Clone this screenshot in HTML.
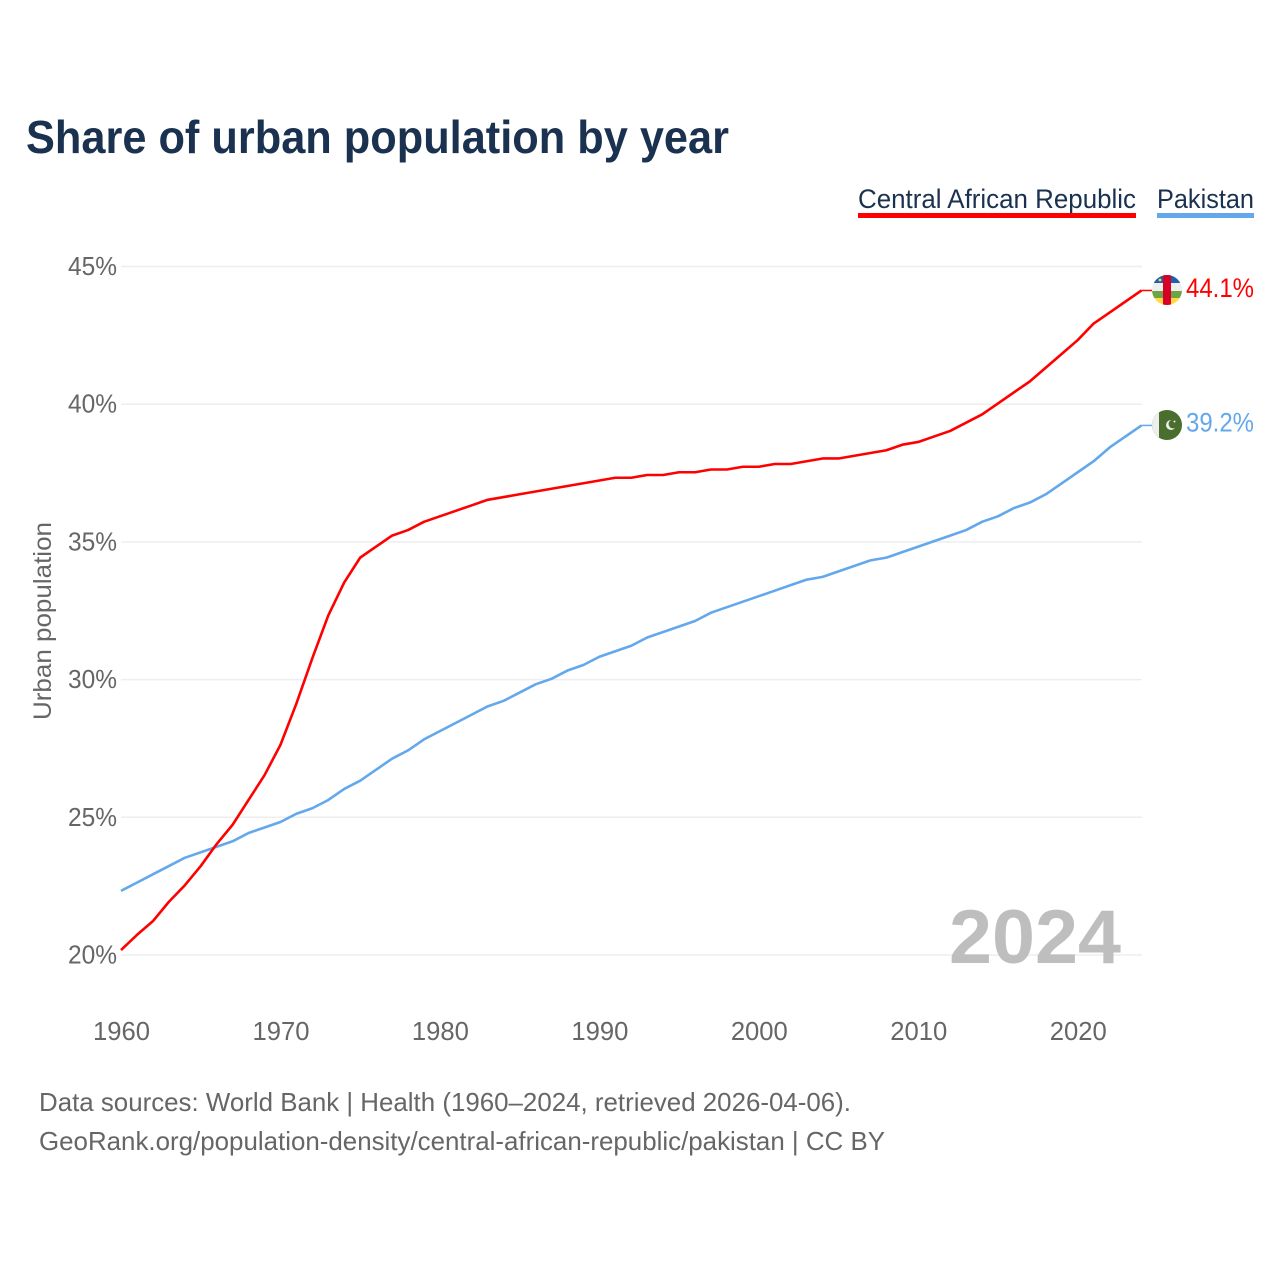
<!DOCTYPE html>
<html lang="en">
<head>
<meta charset="utf-8">
<title>Share of urban population by year</title>
<style>
html,body{margin:0;padding:0;background:#fff}
svg{display:block;font-family:"Liberation Sans",sans-serif}
</style>
</head>
<body>
<svg id="chart" xmlns="http://www.w3.org/2000/svg" width="1280" height="1280" viewBox="0 0 1280 1280">
  <defs>
    <clipPath id="flag-clip-a"><circle cx="1167" cy="290" r="15"/></clipPath>
    <clipPath id="flag-clip-b"><circle cx="1167" cy="425" r="15"/></clipPath>
  </defs>
  <rect width="1280" height="1280" fill="#fff"/>
  <text x="26" y="153" font-size="46" font-weight="700" fill="#1a3150" textLength="703" lengthAdjust="spacingAndGlyphs">Share of urban population by year</text>

  <g>
    <g>
      <text x="858" y="208" font-size="27" fill="#1a3150" textLength="278" lengthAdjust="spacingAndGlyphs">Central African Republic</text>
      <rect x="858" y="213" width="278" height="5" fill="#ff0000"/>
    </g>
    <g>
      <text x="1157" y="208" font-size="27" fill="#1a3150" textLength="97" lengthAdjust="spacingAndGlyphs">Pakistan</text>
      <rect x="1157" y="213" width="97" height="5" fill="#64a8ec"/>
    </g>
  </g>

  <g id="grid"></g>
  <g id="y-ticks"></g>
  <g id="x-ticks"></g>
  <text transform="translate(51 720) rotate(-90)" font-size="25" fill="#666" textLength="198" lengthAdjust="spacingAndGlyphs">Urban population</text>

  <text x="949" y="963" font-size="76" font-weight="700" fill="#bebebe" textLength="172" lengthAdjust="spacingAndGlyphs">2024</text>

  <g id="series" transform="translate(0 -0.8)"></g>

  <g clip-path="url(#flag-clip-a)">
    <rect x="1152" y="275" width="30" height="8" fill="#1f5fae"/>
    <rect x="1152" y="283" width="30" height="8" fill="#eeeeee"/>
    <rect x="1152" y="291" width="30" height="7" fill="#6da544"/>
    <rect x="1152" y="298" width="30" height="7" fill="#ffda44"/>
    <rect x="1163" y="275" width="8" height="30" fill="#d80027"/>
    <circle cx="1160" cy="280" r="1.4" fill="#ffda44"/>
  </g>
  <g clip-path="url(#flag-clip-b)">
    <rect x="1152" y="410" width="30" height="30" fill="#496e2d"/>
    <rect x="1152" y="410" width="7" height="30" fill="#eeeeee"/>
    <circle cx="1171" cy="425" r="5" fill="#eeeeee"/>
    <circle cx="1173" cy="424" r="4.4" fill="#496e2d"/>
    <circle cx="1174.5" cy="421.5" r="1" fill="#eeeeee"/>
  </g>

  <g id="end-labels"></g>

  <g>
    <text x="39" y="1111" font-size="26" fill="#666" textLength="812" lengthAdjust="spacingAndGlyphs">Data sources: World Bank | Health (1960–2024, retrieved 2026-04-06).</text>
    <text x="39" y="1150" font-size="26" fill="#666" textLength="846" lengthAdjust="spacingAndGlyphs">GeoRank.org/population-density/central-african-republic/pakistan | CC BY</text>
  </g>
</svg>

<script>
const years = [1960,1961,1962,1963,1964,1965,1966,1967,1968,1969,1970,1971,1972,1973,1974,1975,1976,1977,1978,1979,1980,1981,1982,1983,1984,1985,1986,1987,1988,1989,1990,1991,1992,1993,1994,1995,1996,1997,1998,1999,2000,2001,2002,2003,2004,2005,2006,2007,2008,2009,2010,2011,2012,2013,2014,2015,2016,2017,2018,2019,2020,2021,2022,2023,2024];
const centralAfricanRepublic = [20.15,20.7,21.2,21.9,22.5,23.2,24.0,24.7,25.6,26.5,27.6,29.1,30.75,32.3,33.5,34.4,34.8,35.2,35.4,35.7,35.9,36.1,36.3,36.5,36.6,36.7,36.8,36.9,37.0,37.1,37.2,37.3,37.3,37.4,37.4,37.5,37.5,37.6,37.6,37.7,37.7,37.8,37.8,37.9,38.0,38.0,38.1,38.2,38.3,38.5,38.6,38.8,39.0,39.3,39.6,40.0,40.4,40.8,41.3,41.8,42.3,42.9,43.3,43.7,44.1];
const pakistan = [22.3,22.6,22.9,23.2,23.5,23.7,23.9,24.1,24.4,24.6,24.8,25.1,25.3,25.6,26.0,26.3,26.7,27.1,27.4,27.8,28.1,28.4,28.7,29.0,29.2,29.5,29.8,30.0,30.3,30.5,30.8,31.0,31.2,31.5,31.7,31.9,32.1,32.4,32.6,32.8,33.0,33.2,33.4,33.6,33.7,33.9,34.1,34.3,34.4,34.6,34.8,35.0,35.2,35.4,35.7,35.9,36.2,36.4,36.7,37.1,37.5,37.9,38.4,38.8,39.2];
const yTickValues = [20,25,30,35,40,45];
const xTickValues = [1960,1970,1980,1990,2000,2010,2020];

const NS = 'http://www.w3.org/2000/svg';
function xScale(year){ return 121 + (year - 1960) * (1141.5 - 121) / 64; }
function yScale(v){ return 955 - (v - 20) * (955 - 266.5) / 25; }
function make(tag, attrs, parent, text){
  const el = document.createElementNS(NS, tag);
  for (const k in attrs) el.setAttribute(k, attrs[k]);
  if (text !== undefined) el.textContent = text;
  parent.appendChild(el);
  return el;
}
const gridG = document.getElementById('grid');
const yG = document.getElementById('y-ticks');
const xG = document.getElementById('x-ticks');
const seriesG = document.getElementById('series');
const endG = document.getElementById('end-labels');

yTickValues.forEach(function(v){
  const line = make('line', {x1:121, x2:1142, y1:yScale(v), y2:yScale(v), stroke:'#eeeeee', 'stroke-width':1.5}, gridG);
  
  
  const label = make('text', {x:68, y:yScale(v)+8.5, 'font-size':25.5, fill:'#666', textLength:49, lengthAdjust:'spacingAndGlyphs'}, yG, v + '%');
  
  
});

xTickValues.forEach(function(t){
  const label = make('text', {x:xScale(t)-28, y:1040, 'font-size':25.5, fill:'#666', textLength:57, lengthAdjust:'spacingAndGlyphs'}, xG, String(t));
  
  
});

function drawSeries(values, color, key){
  const pts = values.map(function(v, i){ return xScale(years[i]).toFixed(2) + ',' + yScale(v).toFixed(2); });
  const last = values[values.length - 1];
  const lastY = yScale(last);
  const line = make('polyline', {points:pts.join(' '), fill:'none', stroke:color, 'stroke-width':2.6, 'stroke-linejoin':'round'}, seriesG);
  
  
  const connector = make('line', {x1:xScale(years[years.length-1]), x2:1152, y1:lastY, y2:lastY, stroke:color, 'stroke-width':1.5}, seriesG);
  
  
  const label = make('text', {x:1186, y:lastY+5.5, 'font-size':26.5, fill:color, textLength:68, lengthAdjust:'spacingAndGlyphs'}, endG, last.toFixed(1) + '%');
  
  
}
drawSeries(pakistan, '#64a8ec', 'pakistan');
drawSeries(centralAfricanRepublic, '#ff0000', 'central-african-republic');
</script>
</body>
</html>
